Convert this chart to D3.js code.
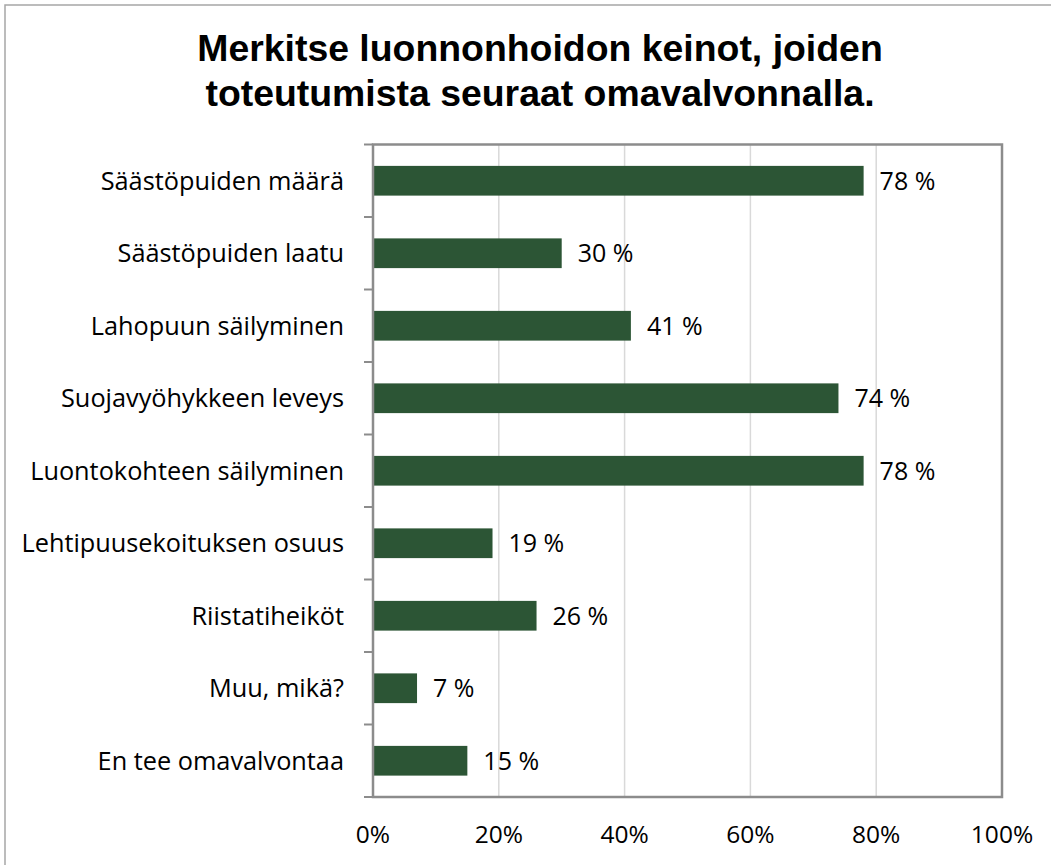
<!DOCTYPE html>
<html>
<head>
<meta charset="utf-8">
<script src="https://cdn.jsdelivr.net/npm/d3@7"></script>
<style>
  html, body { margin: 0; padding: 0; background: #ffffff; }
  svg { display: block; }
</style>
</head>
<body>
<div id="chart"></div>
<script>
const titleLines = ["Merkitse luonnonhoidon keinot, joiden", "toteutumista seuraat omavalvonnalla."];
const categories = [
  "Säästöpuiden määrä",
  "Säästöpuiden laatu",
  "Lahopuun säilyminen",
  "Suojavyöhykkeen leveys",
  "Luontokohteen säilyminen",
  "Lehtipuusekoituksen osuus",
  "Riistatiheiköt",
  "Muu, mikä?",
  "En tee omavalvontaa"
];
const values = [78, 30, 41, 74, 78, 19, 26, 7, 15];
const tickValues = [0, 20, 40, 60, 80, 100];

const W = 1051, H = 865;
const plot = { left: 373, right: 1002, top: 144.5, bottom: 797 };
const barColor = "#2c5535";
const font = "'Open Sans', sans-serif";

const svg = d3.select("#chart").append("svg")
  .attr("width", W).attr("height", H);

svg.append("rect").attr("x", 0).attr("y", 0).attr("width", W).attr("height", H).attr("fill", "#fff");

// outer chart border
svg.append("rect")
  .attr("x", 5).attr("y", 5).attr("width", W + 20).attr("height", H + 20)
  .attr("fill", "none").attr("stroke", "#a6a6a6").attr("stroke-width", 1.5);

// title
svg.append("g").selectAll("text").data(titleLines).join("text")
  .attr("x", 540).attr("y", (d, i) => 61 + i * 45)
  .attr("text-anchor", "middle")
  .attr("font-family", "'Liberation Sans', Arial, sans-serif")
  .attr("font-weight", "bold")
  .attr("font-size", 37.4)
  .attr("fill", "#000")
  .text(d => d);

const x = d3.scaleLinear().domain([0, 100]).range([plot.left, plot.right]);
const y = d3.scaleBand().domain(categories).range([plot.top, plot.bottom])
  .paddingInner(0.59).paddingOuter(0.295);

// gridlines
svg.append("g").selectAll("line").data(tickValues.filter(t => t > 0 && t < 100)).join("line")
  .attr("x1", d => x(d)).attr("x2", d => x(d))
  .attr("y1", plot.top).attr("y2", plot.bottom)
  .attr("stroke", "#d9d9d9").attr("stroke-width", 1.5);

// bars
svg.append("g").selectAll("rect").data(categories).join("rect")
  .attr("x", x(0))
  .attr("y", d => y(d))
  .attr("width", (d, i) => x(values[i]) - x(0))
  .attr("height", y.bandwidth())
  .attr("fill", barColor);

// plot border
svg.append("rect")
  .attr("x", plot.left).attr("y", plot.top)
  .attr("width", plot.right - plot.left).attr("height", plot.bottom - plot.top)
  .attr("fill", "none").attr("stroke", "#8c8c8c").attr("stroke-width", 2.5);

// left axis tick marks at band boundaries
const step = y.step();
const bounds = d3.range(categories.length + 1).map(i => plot.top + i * step);
svg.append("g").selectAll("line").data(bounds).join("line")
  .attr("x1", plot.left - 9).attr("x2", plot.left)
  .attr("y1", d => d).attr("y2", d => d)
  .attr("stroke", "#8c8c8c").attr("stroke-width", 2);

// category labels
svg.append("g").selectAll("text").data(categories).join("text")
  .attr("x", 344)
  .attr("y", d => y(d) + y.bandwidth() / 2)
  .attr("dy", "0.35em")
  .attr("text-anchor", "end")
  .attr("font-family", font).attr("font-size", 25.3)
  .attr("fill", "#000")
  .text(d => d);

// value labels
svg.append("g").selectAll("text").data(categories).join("text")
  .attr("x", (d, i) => x(values[i]) + 16)
  .attr("y", d => y(d) + y.bandwidth() / 2)
  .attr("dy", "0.35em")
  .attr("font-family", font).attr("font-size", 25)
  .attr("fill", "#000")
  .text((d, i) => values[i] + " %");

// x tick labels
svg.append("g").selectAll("text").data(tickValues).join("text")
  .attr("x", d => x(d))
  .attr("y", 843)
  .attr("text-anchor", "middle")
  .attr("font-family", font).attr("font-size", 24.5)
  .attr("fill", "#000")
  .text(d => d + "%");
</script>
</body>
</html>
